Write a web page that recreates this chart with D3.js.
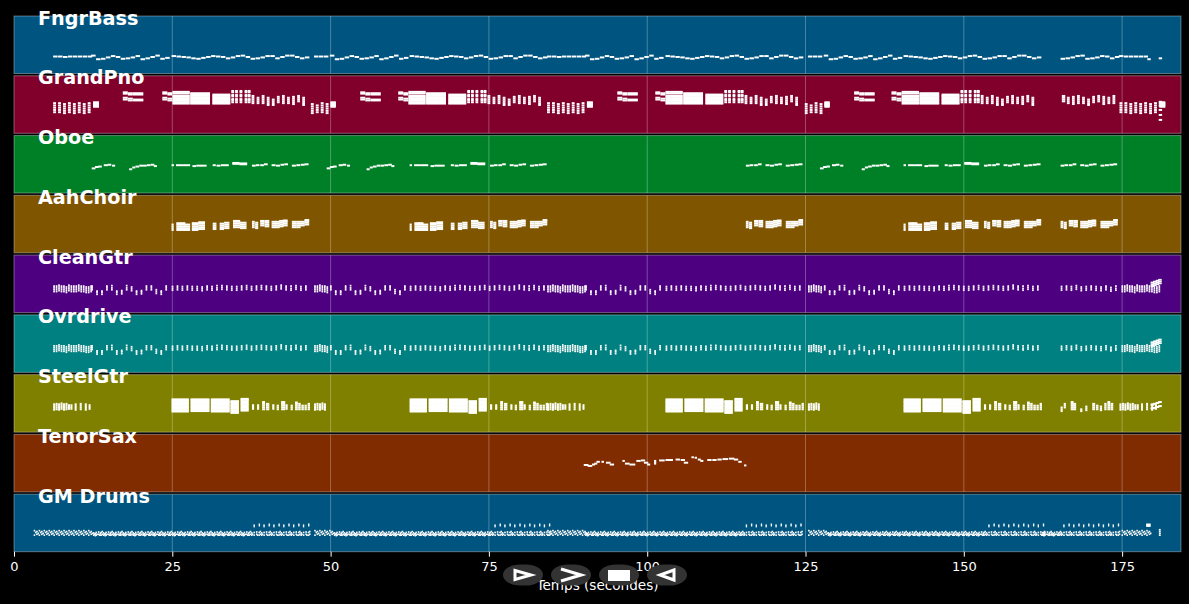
<!DOCTYPE html>
<html><head><meta charset="utf-8">
<script src="https://cdnjs.cloudflare.com/ajax/libs/d3/7.8.5/d3.min.js"></script>
<style>
html,body{margin:0;padding:0;background:#000;overflow:hidden}
svg{display:block;font-family:"DejaVu Sans",sans-serif}
</style></head><body><div id="chart"></div>
<script>
// ---- Categories and axis ----
const trackNames = ["FngrBass","GrandPno","Oboe","AahChoir","CleanGtr","Ovrdrive","SteelGtr","TenorSax","GM Drums"];
const trackColors = ["#005580","#80002b","#008026","#805500","#4d0080","#008080","#808000","#802b00","#005580"];
const timeTicks = [0,25,50,75,100,125,150,175];
const axisLabel = "Temps (secondes)";
const transportGlyphs = ["play","next","stop","back"];

// ---- Bass: MIDI pitches, one per 0.78 s beat ----
const bassFlat = [37,37,36,37,37,37,37,37];
const bassFlatShort = [37,37,37];
const bassWiggle = [39,31,32,35,38,36,32,33,35,38,31,33,36,39,32,34];
const bassWalk = [38,37,36,35,33,32,34,36,38,37,36,33,35,38,39,36,32,33,35,38,38,33,36,39,39,36,33,35];
const bassTail = [32,33,35,38,39,32,33,35,38,37,33,36];
const bassEnd = [38,37,37,37,37,37];
const bassLast = [[179.1,.3,31],[180.9,.3,33]];

// ---- Piano: [time, duration, pitches] relative to the phrase start ----
const pianoLowLong = [[0,.22,[46,51,56,61,66]],[.78,.22,[46,51,56,61,66]],[1.56,.22,[44,49,54,59,64]],[2.34,.22,[46,51,56,61,66]],[3.12,.22,[44,49,54,59,64]],[3.9,.22,[46,51,56,61,66]],[4.68,.22,[44,49,54,59,64]],[5.46,.22,[46,51,56,61,66]],[6.3,.7,[58,60,62,64,66,68]]];
const pianoLowShort = [[0,.22,[44,49,54,59,64]],[.78,.22,[46,51,56,61]],[1.56,.22,[46,51,56,61,66]],[2.34,.22,[44,49,54,59,64]],[3.1,.6,[58,60,62,64,66,68]]];
const pianoStabs = [[0,.55,[90,87,78,74]],[.8,.55,[88,85,76,72]],[1.6,1.4,[88,85,74,72]]];
const pianoBlocks = [
  [0,.55,[90,87,78,74]],[.8,.55,[88,85,76,72]],
  [1.6,2.5,[91,88,83,80,77,74,71,68,65]],
  [4.4,2.9,[88,85,82,79,76,73,70,67,65]],
  [7.9,2.6,[85,82,79,76,73,70,67,65]],
  [10.9,.2,[93,90,84,81,75,72,68]],[11.5,.2,[93,90,84,81,75,72,68]],[12.2,.2,[93,90,84,81,75,72,68]],[13,.2,[93,90,84,81,75,72,68]],[13.5,.2,[93,90,84,81,75,72,68]],
  [14.1,.2,[82,78,74,70,66]],[14.9,.2,[78,74,70,66]],[15.7,.2,[82,78,74,70,66]],[16.5,.2,[78,74,70,66,62]],[17.3,.2,[74,70,66,62]],[18.1,.2,[80,76,72,68]],
  [18.9,.2,[82,78,74,70,66]],[19.7,.2,[78,74,70,66]],[20.5,.2,[80,76,72,68,64]],[21.3,.2,[82,78,74,70]],[22.1,.2,[78,74,70,66,62]]
];
const pianoTail = [[0,.3,[82,78,74,70]],[.8,.2,[78,74,70,66]],[1.6,.2,[80,76,72,68,64]],[2.4,.2,[82,78,74,70,66]],[3.2,.2,[78,74,70,66]],[4,.2,[74,70,66,62]],[4.8,.2,[80,76,72,68]],[5.6,.2,[82,78,74,70]],[6.4,.2,[80,76,72,68,64]],[7.2,.2,[78,74,70,66]],[8,.2,[82,78,74,70,66]]];
const pianoLast = [[180.9,.3,[69,65,60,51,40,29]]];

// ---- Oboe ----
const oboeRiseA = [[0,.35,54],[.5,.35,57],[1,.35,58],[1.9,.4,61],[2.5,.35,62],[3.2,.25,60]];
const oboeRiseB = [[0,.25,52],[.5,.25,56],[1,.35,58],[1.6,.35,60],[2.2,.35,60],[2.8,.35,61],[3.4,.35,62],[3.9,.25,59]];
const oboeMainA = [[0,.15,61],[.7,.8,61],[1.7,1,61],[3.3,.35,59],[3.9,.4,60],[4.5,.8,60],[6.5,.25,61],[7.1,.4,60],[7.8,1,61],[9.6,.9,[64,66]],[10.7,1,[63,65]]];
const oboeMainB = [[12.7,.35,60],[13.3,.35,61],[14,.35,61],[14.6,.35,63],[15.8,.4,61],[16.5,.4,60],[17.2,.35,62],[17.8,.35,63],[19,.4,60],[19.7,.4,61],[20.4,.4,62],[21,.4,63]];

// ---- Choir ----
const aahMainA = [[0,.1,[50,54,58,62]],[.75,.55,[50,54,58,62,65]],[1.4,.55,[50,54,58,62,65]],[2.1,.6,[50,54,58,62]],[3.2,.8,[50,54,58,62,65]],[4.2,.85,[52,56,60,64,67]],[6.5,.35,[52,56,60,64]],[7.6,.45,[52,56,60,64]],[8.3,.6,[54,58,62,66]],[9.7,.9,[56,60,64,68,70]],[10.8,.8,[54,58,62,66]]];
const aahMainB = [[12.7,.2,[56,60,64,68]],[13.2,.25,[54,58,62,66]],[14,.45,[60,64,68,70]],[14.7,.5,[58,62,66,70]],[15.8,.45,[56,60,64,68]],[16.4,.45,[56,60,64,68]],[17,.45,[58,62,66,70]],[17.6,.5,[60,64,68,71]],[19,.5,[56,60,64,68]],[19.7,.45,[56,60,64,68]],[20.3,.5,[60,64,68]],[21,.5,[62,66,70,72]]];

// ---- Clean guitar and overdrive: the two parts double each other ----
const gtrDense = [[46,50,54,58],[46,50,54,58],[48,52,56,60],[46,50,54,58],[46,50,54,58],[44,48,52,56],[48,52,56,60],[46,50,54,58],[46,50,54,58],[46,50,54,58],[48,52,56,60],[46,50,54,58],[46,50,54,58],[44,48,52,56],[44,48,52,56],[46,50,54,58]];
const gtrDenseShort = [[46,50,54,58],[46,50,54,58],[48,52,56,60],[46,50,54,58],[46,50,54,58],[44,48,52,56]];
const gtrDrops = [[50,54,58],[40,44,47],[40,44,47],[50,54,58],[50,54,59],[40,44,47],[41,45,48],[50,54,59],[48,52,56],[40,44,47],[41,45,48],[50,54,58],[50,54,58],[42,46,50],[40,44,47],[50,54,58]];
const gtrSteady = [[49,53,57],[50,54,58],[49,53,57],[50,54,58],[49,53,57],[49,53,57],[48,52,56],[50,54,58],[49,53,57],[50,54,59],[51,55,59],[50,54,58],[49,53,57],[49,53,57],[50,54,58],[51,55,59],[49,53,57],[50,54,58],[51,55,59],[50,54,58],[49,53,57],[50,54,58],[52,56,60],[50,54,58],[49,53,58],[51,55,59],[49,53,57],[50,54,58]];
const gtrTail = [[49,53,57],[50,54,58],[49,53,57],[51,55,59],[48,52,56],[49,53,57],[50,54,58],[49,53,57],[48,52,56],[50,54,58],[47,51,55],[49,53,58]];
const gtrWedge = [[179.6,.35,[58,62,66]],[180,.35,[60,64,68]],[180.4,.35,[62,66,70]],[180.8,.35,[64,68,72]]];

// ---- Steel guitar ----
const steelIntro = [[0,.08,[49,53,57,61]],[.39,.08,[50,54,58,62]],[.78,.08,[49,53,57,61]],[1.17,.08,[51,55,59,63]],[1.56,.08,[49,53,57,61]],[1.95,.08,[50,54,58,62]],[2.34,.08,[51,55,59]],[2.73,.08,[51,55,59]],[3.4,.08,[49,53,57,61]],[4.2,.08,[50,54,58,62]],[5,.08,[49,53,57,61]],[5.6,.08,[51,55,59]]];
const steelIntroShort = [[0,.08,[49,53,57,61]],[.39,.08,[50,54,58,62]],[.78,.08,[49,53,57,61]],[1.17,.08,[51,55,59,63]],[1.56,.08,[49,53,57,61]]];
const steelBlocks = [
  [0,2.5,[45,48,51,54,57,60,63,66,69,72]],
  [3,2.75,[46,49,52,55,58,61,64,67,70,72]],
  [6.2,2.75,[45,48,51,54,57,60,63,66,69,72]],
  [9.3,1.1,[42,45,48,51,54,57,60,63,66,68]],
  [10.9,1.05,[47,50,53,56,59,62,65,68,71,73]]
];
const steelBars = [[12.7,.1,[51,55,59]],[13.5,.1,[51,55,59]],[14.3,.22,[50,54,58,62,66]],[14.9,.3,[50,54,58,62]],[15.9,.1,[51,55,59]],[16.6,.12,[50,54,58]],[17.3,.42,[50,54,58,62,66]],[18,.1,[51,55,59]],[18.8,.12,[50,54,58]],[19.5,.2,[50,54,58,62,65]],[20,.15,[50,54,58,62]],[20.5,.15,[50,54,58]],[21,.12,[50,54,58]],[21.5,.12,[50,54,58,62]]];
const steelTail = [[0,.1,[46,50,54]],[.5,.1,[54,58,62]],[1.6,.22,[50,54,58,62,66]],[2,.22,[50,54,58,62]],[3.1,.1,[46,50]],[3.9,.1,[48,52,56]],[5,.22,[50,54,58,62]],[5.6,.15,[50,54,58]],[6.2,.12,[48,52,56]],[6.9,.12,[50,54,58,62]],[7.4,.2,[50,54,58,62,66]],[7.9,.18,[50,54,58,62]]];
const steelWedge = [[179.6,.35,[52,60]],[180,.35,[53,62]],[180.4,.35,[55,64]],[180.8,.35,[57,66]]];

// ---- Tenor sax ----
const saxNotes = [[90.1,.5,59],[90.7,.5,57],[91.4,.25,60],[91.75,.25,62],[92.1,.3,66],[92.9,.15,66],[93.6,.5,64],[94.2,.45,60],[96.2,.15,68],[96.6,.5,62],[97.3,.7,60],[98.4,.45,68],[99.1,.45,69],[99.6,.45,64],[100.1,.25,60],[101.2,.1,[62,65,68]],[102,.65,69],[103,.95,70],[104.6,.45,71],[105.4,.45,70],[105.9,.45,64],[107.1,.15,76],[107.6,.15,75],[108.1,.25,71],[108.5,.25,68],[109.6,.45,70],[110.4,.45,70],[111.2,.45,71],[112,.65,72],[113,.65,73],[113.8,.45,71],[114.5,.3,66],[115.4,.15,58]];

// ---- Drums: [hit time within the bar, duration, drum pitch] ----
const drumDenseBar = [[0,.06,46],[0,.06,36],[.2,.06,42],[.39,.06,44],[.39,.06,38],[.59,.06,40],[.78,.06,46],[.78,.06,36],[.98,.06,42],[1.17,.06,44],[1.17,.06,38],[1.37,.06,40]];
const drumGrooveBar = [[0,.06,[36,41]],[.12,.06,38],[.26,.06,[35,39]],[.39,.06,[36,42]],[.55,.06,38],[.78,.06,[38,43]],[.92,.06,36],[1.05,.06,[36,40]],[1.17,.06,[36,42]],[1.36,.06,[38,44]]];
const drumCymbalBar = [[0,.06,[36,41]],[.12,.06,38],[.39,.06,[36,42]],[.4,.02,[55,58]],[.78,.06,[38,43]],[.92,.06,36],[1.17,.06,[36,42]],[1.22,.02,[57,60]],[1.36,.06,[38,44]]];
const drumDenseStarts = [3.2,4.76,6.32,7.88,9.44,11,47.5,49.06,84.3,85.86,87.42,88.98,125.5,127.06,175,176.56,178.12];
const drumGrooveStarts = [12.56,14.12,15.68,17.24,18.8,20.36,21.92,23.48,25.04,26.6,28.16,29.72,31.28,32.84,34.4,35.96,50.6,52.16,53.72,55.28,56.84,58.4,59.96,61.52,63.08,64.64,66.2,67.76,69.32,70.88,72.44,74,90.3,91.86,93.42,94.98,96.54,98.1,99.66,101.22,102.78,104.34,105.9,107.46,109.02,110.58,112.14,113.7,128.6,130.16,131.72,133.28,134.84,136.4,137.96,139.52,141.08,142.64,144.2,145.76,147.32,148.88,150.44,152,162.4,163.9];
const drumCymbalStarts = [37.52,39.08,40.64,42.2,43.76,45.32,75.56,77.12,78.68,80.24,81.8,83.36,115.26,116.82,118.38,119.94,121.5,123.06,153.56,155.12,156.68,158.24,159.8,161.36,165.4,166.96,168.52,170.08,171.64,173.2];
const drumLast = [[178.9,.5,[56,58,60]],[180.9,.1,[36,40,44,48]]];

// ---- Where each phrase is played ----
const beat = 0.78, halfBeat = 0.39;
const introAt = [6.3,84.3], shortAt = [47.5,125.5], wiggleAt = [12.3,50,90.3,128], walkAt = [25,62.6,103,140.6];
const blockAt = [23.54,60.8,101.4,138.7], stabAt = [17.3,54.8,95.4,132.8];
const riseAAt = [12.4,49.5,127.4], riseBAt = [18.3,55.8,134];
const mainAAt = [25,62.6,140.6], mainBAt = [25,62.6,103,140.6,152.7];

const W = 1189, H = 604;
const seq = (step,dur,list) => list.map((p,i)=>[i*step,dur,p]);
const play = (phrase,at) => at.flatMap(t0 => phrase.map(([t,d,p]) => [t0+t,d,p]));

const guitarNotes = () => [...play(seq(halfBeat,.06,gtrDense),[...introAt,175]),...play(seq(halfBeat,.06,gtrDenseShort),shortAt),...play(seq(beat,.07,gtrDrops),wiggleAt),...play(seq(beat,.07,gtrSteady),walkAt),...play(seq(beat,.07,gtrTail),[165.4]),...gtrWedge];

const trackNotes = {
  "FngrBass":[...play(seq(beat,.47,bassFlat),introAt),...play(seq(beat,.47,bassFlatShort),shortAt),...play(seq(beat,.47,bassWiggle),wiggleAt),...play(seq(beat,.47,bassWalk),walkAt),...play(seq(beat,.47,bassTail),[165.4]),...play(seq(beat,.47,bassEnd),[174.6]),...bassLast],
  "GrandPno":[...play(pianoLowLong,[6.3,84.3,174.7]),...play(pianoLowShort,[47,125]),...play(pianoStabs,stabAt),...play(pianoBlocks,blockAt),...play(pianoTail,[165.6]),...pianoLast],
  "Oboe":[...play(oboeRiseA,riseAAt),...play(oboeRiseB,riseBAt),...play(oboeMainA,mainAAt),...play(oboeMainB,mainBAt)],
  "AahChoir":[...play(aahMainA,mainAAt),...play(aahMainB,mainBAt)],
  "CleanGtr":guitarNotes(),
  "Ovrdrive":guitarNotes(),
  "SteelGtr":[...play(steelIntro,[6.3,84.3,174.7]),...play(steelIntroShort,shortAt),...play(steelBlocks,walkAt),...play(steelBars,walkAt),...play(steelTail,[165.4]),...steelWedge],
  "TenorSax":[...saxNotes],
  "GM Drums":[...play(drumDenseBar,drumDenseStarts),...play(drumGrooveBar,drumGrooveStarts),...play(drumCymbalBar,drumCymbalStarts),...drumLast]
};

const x = d3.scaleLinear().domain([0,184.3]).range([14,1181]);
const rowBand = d3.scaleBand().domain(trackNames).range([16,551.7]).paddingInner(0.038);
const pitchY = d3.scaleLinear().domain([0,127]).range([rowBand.bandwidth(),0]);
const colorOf = d3.scaleOrdinal(trackNames,trackColors);

const svg = d3.select("#chart").append("svg").attr("width",W).attr("height",H).attr("viewBox",`0 0 ${W} ${H}`);
svg.append("rect").attr("width",W).attr("height",H).attr("fill","#000");

const rows = svg.selectAll("g.track").data(trackNames).join("g").attr("class","track")
  .attr("transform",d=>`translate(0,${rowBand(d)})`);

rows.append("rect").attr("x",x(0)).attr("y",0).attr("width",x(184.3)-x(0)).attr("height",rowBand.bandwidth())
  .attr("fill",d=>colorOf(d)).attr("stroke","rgba(255,255,255,0.35)").attr("stroke-width",1);

rows.each(function(){
  d3.select(this).selectAll("line.grid").data(timeTicks.slice(1)).join("line").attr("class","grid")
    .attr("x1",d=>x(d)).attr("x2",d=>x(d)).attr("y1",0).attr("y2",rowBand.bandwidth())
    .attr("stroke","rgba(255,255,255,0.28)").attr("stroke-width",1);
});

rows.each(function(name){
  const flat = trackNotes[name].flatMap(([t,d,p]) => (Array.isArray(p)?p:[p]).map(q=>({t,d,p:q})));
  d3.select(this).selectAll("rect.note").data(flat).join("rect").attr("class","note")
    .attr("x",n=>x(n.t)).attr("width",n=>x(n.t+n.d)-x(n.t))
    .attr("y",n=>pitchY(n.p+1)).attr("height",n=>pitchY(n.p)-pitchY(n.p+1))
    .attr("fill","#fff").attr("stroke","#fff").attr("stroke-width",name==="GM Drums"?1.2:(name==="CleanGtr"||name==="Ovrdrive")?1.3:1.5);
});

rows.append("text").attr("x",38).attr("y",8.6).text(d=>d)
  .attr("fill","#fff").attr("font-weight","bold").attr("font-size",19.2)
  .attr("font-family","'DejaVu Sans',sans-serif");

const axis = d3.axisBottom(x).tickValues(timeTicks).tickFormat(d3.format("d")).tickSize(5).tickPadding(5);
const axG = svg.append("g").attr("transform",`translate(0,${rowBand(trackNames[8])+rowBand.bandwidth()})`).call(axis);
axG.select(".domain").remove();
axG.selectAll(".tick line").attr("stroke","#fff");
axG.selectAll(".tick text").attr("fill","#fff").attr("font-size",13).attr("font-family","'DejaVu Sans',sans-serif");

svg.append("text").attr("x",597.5).attr("y",590).attr("text-anchor","middle").attr("fill","#fff")
  .attr("font-size",13.6).text(axisLabel);

// Transport control overlay
const pillCx = d3.scalePoint().domain(transportGlyphs).range([523,667]);
const pills = svg.selectAll("g.pill").data(transportGlyphs).join("g").attr("class","pill")
  .attr("transform",d=>`translate(${pillCx(d)},575)`);
pills.append("rect").attr("x",-20).attr("y",-10.5).attr("width",40).attr("height",21)
  .attr("rx",17).attr("ry",10.5).attr("fill","#333");
pills.each(function(d){
  const g = d3.select(this);
  if(d==="play") g.append("path").attr("d","M-8,-4.5L8,0L-8,4.5Z").attr("fill","none").attr("stroke","#fff").attr("stroke-width",3);
  if(d==="next") g.append("path").attr("d","M-10,-6L10,0L-10,6").attr("fill","none").attr("stroke","#fff").attr("stroke-width",3.2);
  if(d==="stop") g.append("rect").attr("x",-11).attr("y",-5).attr("width",22).attr("height",11).attr("fill","#fff");
  if(d==="back") g.append("path").attr("d","M7,-5L-7,0L7,5Z").attr("fill","none").attr("stroke","#fff").attr("stroke-width",3);
});
</script></body></html>
